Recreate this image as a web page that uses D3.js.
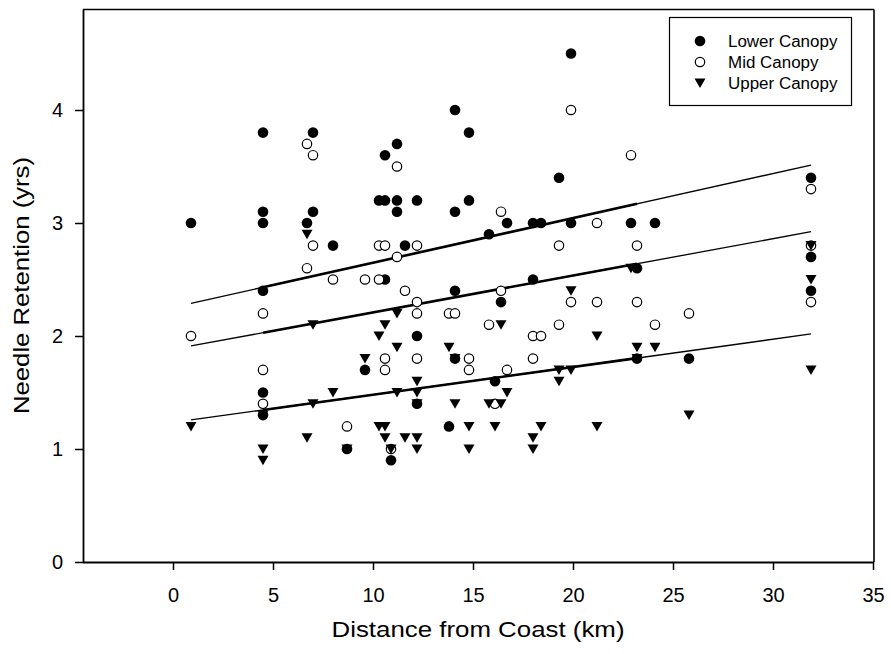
<!DOCTYPE html>
<html>
<head>
<meta charset="utf-8">
<script src="https://cdn.jsdelivr.net/npm/d3@7"></script>
<style>
  html, body { margin: 0; padding: 0; background: #fff; }
  svg text { font-family: "Liberation Sans", Arial, sans-serif; fill: #000; }
</style>
</head>
<body>
<svg id="chart" width="891" height="654"></svg>
<script>
// ---- data (distance km, needle retention yrs) ----
const lowerX = [0.9,4.5,4.5,4.5,4.5,4.5,4.5,6.7,7.0,7.0,8.0,8.7,9.6,10.3,10.6,10.6,10.6,10.9,11.2,11.2,11.2,11.6,12.2,12.2,12.2,13.8,14.1,14.1,14.1,14.1,14.8,14.8,15.8,16.1,16.4,16.7,18.0,18.0,18.4,19.3,19.9,19.9,22.9,23.2,23.2,24.1,25.8,31.9,31.9,31.9];
const lowerY = [3.0,3.8,3.1,3.0,2.4,1.5,1.3,3.0,3.8,3.1,2.8,1.0,1.7,3.2,3.6,3.2,2.5,0.9,3.7,3.2,3.1,2.8,3.2,2.0,1.4,1.2,4.0,3.1,2.4,1.8,3.8,3.2,2.9,1.6,2.3,3.0,3.0,2.5,3.0,3.4,4.5,3.0,3.0,2.6,1.8,3.0,1.8,3.4,2.7,2.4];

const midX = [0.9,4.5,4.5,4.5,6.7,6.7,7.0,7.0,8.0,8.7,9.6,10.3,10.3,10.6,10.6,10.6,10.9,11.2,11.2,11.6,12.2,12.2,12.2,12.2,13.8,14.1,14.8,14.8,15.8,16.1,16.4,16.4,16.7,18.0,18.0,18.4,19.3,19.3,19.9,19.9,21.2,21.2,22.9,23.2,23.2,24.1,25.8,31.9,31.9,31.9];
const midY = [2.0,2.2,1.7,1.4,3.7,2.6,3.6,2.8,2.5,1.2,2.5,2.8,2.5,2.8,1.8,1.7,1.0,3.5,2.7,2.4,2.8,2.3,2.2,1.8,2.2,2.2,1.8,1.7,2.1,1.4,3.1,2.4,1.7,2.0,1.8,2.0,2.8,2.1,4.0,2.3,3.0,2.3,3.6,2.8,2.3,2.1,2.2,3.3,2.8,2.3];

const upperX = [0.9,4.5,4.5,4.5,6.7,6.7,7.0,7.0,8.0,8.7,9.6,10.3,10.3,10.6,10.6,10.6,10.9,11.2,11.2,11.2,11.6,12.2,12.2,12.2,12.2,12.2,13.8,14.1,14.1,14.8,14.8,15.8,16.1,16.4,16.4,16.7,18.0,18.0,18.4,19.3,19.3,19.9,19.9,21.2,21.2,22.9,23.2,23.2,24.1,25.8,31.9,31.9,31.9];
const upperY = [1.2,1.3,1.0,0.9,2.9,1.1,2.1,1.4,1.5,1.0,1.8,2.0,1.2,2.1,1.2,1.1,1.0,2.2,1.9,1.5,1.1,1.6,1.5,1.4,1.1,1.0,1.9,1.8,1.4,1.2,1.0,1.4,1.2,2.1,1.4,1.5,1.1,1.0,1.2,1.7,1.6,2.4,1.7,2.0,1.2,2.6,1.9,1.8,1.9,1.3,2.8,2.5,1.7];

// regression lines: value at fit start / fit end
const fitX = [0.9, 31.9];
const lowerFit = [2.289, 3.513];
const midFit = [1.912, 2.923];
const upperFit = [1.257, 2.018];
const heavyX = [4.5, 23.2]; // section where line is drawn heavier

const seriesNames = ["Lower Canopy", "Mid Canopy", "Upper Canopy"];
const xTicks = [0,5,10,15,20,25,30,35];
const yTicks = [0,1,2,3,4];
const xDomain = [-4.5, 35];
const yDomain = [0, 4.9];

// ---- layout ----
const svg = d3.select("#chart");
const L = 83, R = 873, T = 8.3, B = 562;
const x = d3.scaleLinear().domain(xDomain).range([L, R]);
const y = d3.scaleLinear().domain(yDomain).range([B, T]);

// frame top & right
svg.append("line").attr("x1", L).attr("x2", R + 1).attr("y1", 9.5).attr("y2", 9.5)
  .attr("stroke", "#000").attr("stroke-width", 1.6);
svg.append("line").attr("x1", R + 1).attr("x2", R + 1).attr("y1", 9.5).attr("y2", B)
  .attr("stroke", "#000").attr("stroke-width", 1.6);

// axes
const xAxis = svg.append("g").attr("transform", `translate(0,${B})`)
  .call(d3.axisBottom(x).tickValues(xTicks).tickFormat(d3.format("d"))
    .tickSizeOuter(0).tickSizeInner(8).tickPadding(18));
const yAxis = svg.append("g").attr("transform", `translate(${L},0)`)
  .call(d3.axisLeft(y).tickValues(yTicks).tickFormat(d3.format("d"))
    .tickSizeOuter(0).tickSizeInner(8).tickPadding(12));
[xAxis, yAxis].forEach(g => {
  g.select(".domain").attr("stroke", "#000").attr("stroke-width", 1.8);
  g.selectAll(".tick line").attr("stroke", "#000").attr("stroke-width", 1.5);
  g.selectAll(".tick text").attr("font-size", 20).attr("fill", "#000")
   .style("font-family", '"Liberation Sans", Arial, sans-serif');
});
xAxis.select(".domain").attr("d", `M${L},0.5H${R + 1}`);
yAxis.select(".domain").attr("d", `M0.5,${B}V${9.5}`);

// axis titles
svg.append("text").attr("x", (L + R) / 2).attr("y", 637).attr("text-anchor", "middle")
  .attr("font-size", 22).attr("textLength", 293).attr("lengthAdjust", "spacingAndGlyphs")
  .text("Distance from Coast (km)");
svg.append("text").attr("transform", `translate(29,${(9 + B) / 2}) rotate(-90)`)
  .attr("text-anchor", "middle").attr("font-size", 22)
  .attr("textLength", 257).attr("lengthAdjust", "spacingAndGlyphs")
  .text("Needle Retention (yrs)");

// regression lines
const lineGen = d3.line().x(d => x(d[0])).y(d => y(d[1]));
[lowerFit, midFit, upperFit].forEach(f => {
  const at = v => f[0] + (f[1] - f[0]) * (v - fitX[0]) / (fitX[1] - fitX[0]);
  svg.append("path").attr("d", lineGen([[fitX[0], f[0]], [fitX[1], f[1]]]))
    .attr("stroke", "#000").attr("stroke-width", 1.3).attr("fill", "none");
  svg.append("path").attr("d", lineGen([[heavyX[0], at(heavyX[0])], [heavyX[1], at(heavyX[1])]]))
    .attr("stroke", "#000").attr("stroke-width", 2.6).attr("fill", "none");
});

// markers
const triPath = "M-5.5,-4.5L5.5,-4.5L0,5Z";
function drawFilled(g, xs, ys) {
  g.selectAll(null).data(xs.map((v, i) => [v, ys[i]])).enter().append("circle")
    .attr("cx", d => x(d[0])).attr("cy", d => y(d[1])).attr("r", 5.3).attr("fill", "#000");
}
function drawOpen(g, xs, ys) {
  g.selectAll(null).data(xs.map((v, i) => [v, ys[i]])).enter().append("circle")
    .attr("cx", d => x(d[0])).attr("cy", d => y(d[1])).attr("r", 4.7)
    .attr("fill", "#fff").attr("stroke", "#000").attr("stroke-width", 1.2);
}
function drawTri(g, xs, ys) {
  g.selectAll(null).data(xs.map((v, i) => [v, ys[i]])).enter().append("path")
    .attr("d", triPath).attr("transform", d => `translate(${x(d[0])},${y(d[1])})`)
    .attr("fill", "#000");
}
drawFilled(svg.append("g"), lowerX, lowerY);
drawOpen(svg.append("g"), midX, midY);
drawTri(svg.append("g"), upperX, upperY);

// legend
const lg = svg.append("g");
lg.append("rect").attr("x", 669.5).attr("y", 17.5).attr("width", 182).attr("height", 88)
  .attr("fill", "#fff").attr("stroke", "#000").attr("stroke-width", 1.2);
const ly = [41, 62, 83];
lg.append("circle").attr("cx", 700).attr("cy", ly[0]).attr("r", 5.3).attr("fill", "#000");
lg.append("circle").attr("cx", 700).attr("cy", ly[1]).attr("r", 4.7).attr("fill", "#fff")
  .attr("stroke", "#000").attr("stroke-width", 1.2);
lg.append("path").attr("d", triPath).attr("transform", `translate(700,${ly[2]})`).attr("fill", "#000");
seriesNames.forEach((n, i) => {
  const t = lg.append("text").attr("x", 728).attr("y", ly[i] + 5.5).attr("font-size", 16).text(n);
  const w = t.node().getComputedTextLength();
  t.attr("textLength", w * 1.06).attr("lengthAdjust", "spacingAndGlyphs");
});
</script>
</body>
</html>
